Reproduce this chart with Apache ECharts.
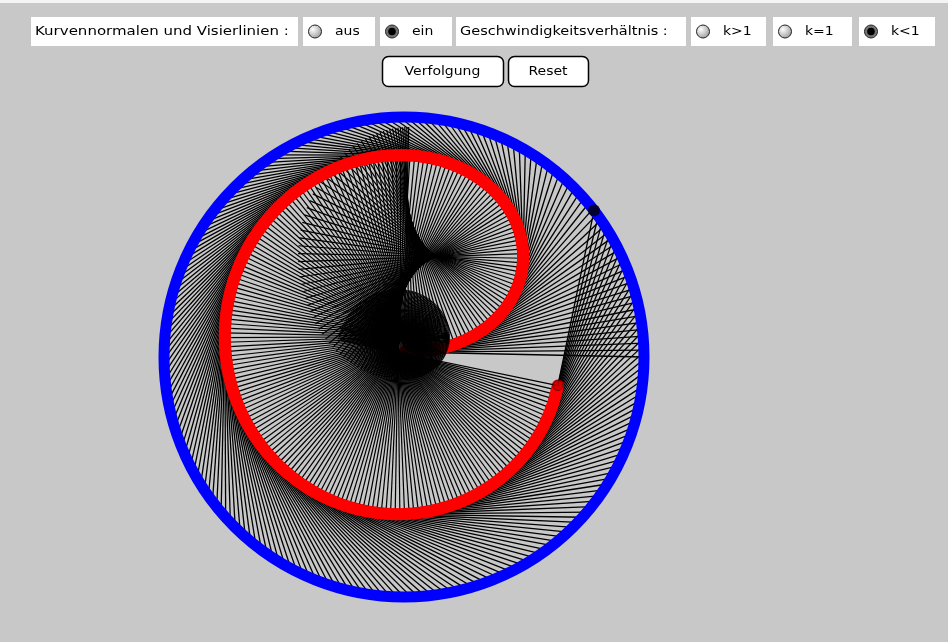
<!DOCTYPE html>
<html><head><meta charset="utf-8">
<script src="https://cdn.jsdelivr.net/npm/echarts@6/dist/echarts.min.js"></script>
<style>html,body{margin:0;padding:0;background:#c8c8c8}#c{width:948px;height:642px}</style>
</head><body><div id="c"></div>
<script>
// ---------------- data ----------------
const controlLabels = ['Kurvennormalen und Visierlinien :', 'Geschwindigkeitsverhältnis :'];
const optionLabels = ['aus', 'ein', 'k>1', 'k=1', 'k<1'];
const optionSelected = [false, true, false, false, true];
const buttonLabels = ['Verfolgung', 'Reset'];
// pursuit parameters
const circleRadius = [240];      // radius of the target's circle
const speedRatio = [0.675];      // k = v_pursuer / v_target
const pursuerStart = [0, 5];     // start of the pursuer
const targetStartAngle = [0];    // rad
const targetEndAngle = [6.94];   // rad, angle travelled by the target so far
const stepCount = [240];         // drawn steps
const normalLength = [225];      // length of the drawn curve normals

// ---------------- pursuit (Verfolgung) integration ----------------
function pursuit() {
  const R = circleRadius[0], k = speedRatio[0], L = normalLength[0];
  const N = stepCount[0], sub = 20;
  const h = (targetEndAngle[0] - targetStartAngle[0]) / (N * sub);
  const vel = (x, y, th) => {
    const dx = R * Math.cos(th) - x, dy = R * Math.sin(th) - y;
    const d = Math.hypot(dx, dy) || 1e-9;
    return [k * R * dx / d, k * R * dy / d];
  };
  let x = pursuerStart[0], y = pursuerStart[1], th = targetStartAngle[0];
  const pts = [[x, y, th]];
  for (let i = 0; i < N; i++) {
    for (let j = 0; j < sub; j++) {
      const a = vel(x, y, th);
      const b = vel(x + a[0] * h / 2, y + a[1] * h / 2, th + h / 2);
      const c = vel(x + b[0] * h / 2, y + b[1] * h / 2, th + h / 2);
      const d = vel(x + c[0] * h, y + c[1] * h, th + h);
      x += h / 6 * (a[0] + 2 * b[0] + 2 * c[0] + d[0]);
      y += h / 6 * (a[1] + 2 * b[1] + 2 * c[1] + d[1]);
      th += h;
    }
    pts.push([x, y, th]);
  }
  const rows = [];
  for (let i = 0; i < pts.length; i++) {
    const [px, py, t] = pts[i];
    const prev = pts[Math.max(0, i - 1)];
    const tx = R * Math.cos(t), ty = R * Math.sin(t);
    const dx = tx - px, dy = ty - py, d = Math.hypot(dx, dy);
    const nx = -dy / d, ny = dx / d;   // inward (left) normal of the curve
    rows.push([px, py, prev[0], prev[1], tx, ty, px + L * nx, py + L * ny]);
  }
  return rows;
}
const steps = pursuit();
const lastStep = steps[steps.length - 1];

const chart = echarts.init(document.getElementById('c'), null, { renderer: 'canvas' });
const EXT = 246;
const FONT = 'DejaVu Sans';

// ---------------- UI graphic elements ----------------
const boxes = [
  { x: 31, w: 267, label: controlLabels[0], sx: 1.2 },
  { x: 303, w: 72, opt: 0 },
  { x: 380, w: 72, opt: 1 },
  { x: 456, w: 230, label: controlLabels[1], sx: 1.16 },
  { x: 691, w: 75, opt: 2 },
  { x: 773, w: 79, opt: 3 },
  { x: 859, w: 76, opt: 4 }
];
const graphics = [
  { type: 'rect', left: 0, top: 0, shape: { width: 948, height: 3 }, style: { fill: '#f4f4f4' }, z: 0 }
];
boxes.forEach(b => {
  graphics.push({ type: 'rect', shape: { x: b.x, y: 17, width: b.w, height: 29 }, style: { fill: '#ffffff' } });
  if (b.label) {
    graphics.push({ type: 'text', x: b.x + 4, y: 31.5, scaleX: b.sx, style: { text: b.label, fill: '#000', font: '12.5px ' + FONT, textVerticalAlign: 'middle' } });
  } else {
    const cx = b.x + 12, cy = 31.5, sel = optionSelected[b.opt];
    graphics.push({ type: 'circle', shape: { cx, cy, r: 6.5 }, style: {
      fill: sel ? new echarts.graphic.RadialGradient(0.5, 0.5, 0.6, [{ offset: 0, color: '#555' }, { offset: 1, color: '#8a8a8a' }])
                : new echarts.graphic.RadialGradient(0.35, 0.35, 0.8, [{ offset: 0, color: '#ffffff' }, { offset: 1, color: '#8c8c8c' }]),
      stroke: '#222', lineWidth: 1 } });
    if (sel) graphics.push({ type: 'circle', shape: { cx, cy, r: 3.8 }, style: { fill: '#000' } });
    graphics.push({ type: 'text', x: cx + 20, y: 31.5, scaleX: 1.12, style: { text: optionLabels[b.opt], fill: '#000', font: '12.5px ' + FONT, textVerticalAlign: 'middle' } });
  }
});
const buttons = [{ x: 382, w: 121 }, { x: 508, w: 80 }];
buttons.forEach((b, i) => {
  graphics.push({ type: 'rect', shape: { x: b.x + 0.5, y: 56.5, width: b.w, height: 30, r: 6 }, style: { fill: '#fff', stroke: '#000', lineWidth: 1.5 } });
  graphics.push({ type: 'text', x: b.x + b.w / 2, y: 72, scaleX: 1.12, style: { text: buttonLabels[i], fill: '#000', font: '12.5px ' + FONT, textAlign: 'center', textVerticalAlign: 'middle' } });
});

// ---------------- chart ----------------
const option = {
  backgroundColor: '#c8c8c8',
  animation: false,
  graphic: graphics,
  grid: { left: 404 - EXT, top: 357 - EXT, width: 2 * EXT, height: 2 * EXT },
  xAxis: { type: 'value', min: -EXT, max: EXT, show: false },
  yAxis: { type: 'value', min: -EXT, max: EXT, show: false },
  series: [
    {
      type: 'custom', coordinateSystem: 'cartesian2d', z: 2, clip: false,
      data: steps,
      encode: { x: [0, 2, 4, 6], y: [1, 3, 5, 7] },
      renderItem(params, api) {
        const i = params.dataIndex;
        const p = api.coord([api.value(0), api.value(1)]);
        const q = api.coord([api.value(2), api.value(3)]);
        const t = api.coord([api.value(4), api.value(5)]);
        const n = api.coord([api.value(6), api.value(7)]);
        return { type: 'group', children: [
          { type: 'line', z2: i * 3, shape: { x1: q[0], y1: q[1], x2: p[0], y2: p[1] }, style: { stroke: '#ff0000', lineWidth: 12, lineCap: 'round' } },
          { type: 'line', z2: i * 3 + 1, shape: { x1: p[0], y1: p[1], x2: t[0], y2: t[1] }, style: { stroke: '#000', lineWidth: 1.3 } },
          { type: 'line', z2: i * 3 + 2, shape: { x1: p[0], y1: p[1], x2: n[0], y2: n[1] }, style: { stroke: '#000', lineWidth: 1.2 } }
        ] };
      }
    },
    {
      type: 'custom', coordinateSystem: 'cartesian2d', z: 3,
      data: [[0, 0, circleRadius[0]]],
      renderItem(params, api) {
        const c = api.coord([api.value(0), api.value(1)]);
        const r = api.size([api.value(2), 0])[0];
        return { type: 'circle', shape: { cx: c[0], cy: c[1], r }, style: { fill: 'none', stroke: '#0000ff', lineWidth: 11 } };
      }
    },
    {
      type: 'scatter', z: 4, symbol: 'circle', symbolSize: 12,
      itemStyle: { color: '#000' },
      data: [[lastStep[4], lastStep[5]]]
    },
    {
      type: 'scatter', z: 4, symbol: 'circle', symbolSize: 10,
      itemStyle: { color: '#cc0000', borderColor: '#660000', borderWidth: 1 },
      data: [[lastStep[0], lastStep[1]]]
    }
  ]
};
chart.setOption(option);
</script>
</body></html>
